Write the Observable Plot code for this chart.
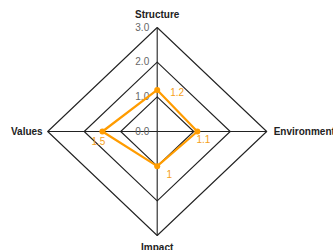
<!DOCTYPE html>
<html>
<head>
<meta charset="utf-8">
<script src="https://cdn.jsdelivr.net/npm/d3@7"></script>
<script src="https://cdn.jsdelivr.net/npm/@observablehq/plot@0.6"></script>
<style>
  html, body { margin: 0; padding: 0; background: #fff; }
</style>
</head>
<body>
<div id="chart"></div>
<script>
const axesNames = ["Structure", "Environment", "Impact", "Values"];
const seriesValues = [1.2, 1.1, 1, 1.5];
const valueLabels = ["1.2", "1.1", "1", "1.5"];
const ringLevels = [1, 2, 3];
const tickValues = [0, 1, 2, 3];
const tickLabels = ["0.0", "1.0", "2.0", "3.0"];
const maxValue = 3;

// direction of each axis (unit vectors)
const dirs = [[0, 1], [1, 0], [0, -1], [-1, 0]];

const ringPts = [];
ringLevels.forEach(k => {
  [0, 1, 2, 3, 0].forEach(i => ringPts.push({ring: k, x: dirs[i][0] * k, y: dirs[i][1] * k}));
});
const spokes = axesNames.map((a, i) => ({x1: 0, y1: 0, x2: dirs[i][0] * maxValue, y2: dirs[i][1] * maxValue}));
const dataPts = seriesValues.map((v, i) => ({name: axesNames[i], label: valueLabels[i], x: dirs[i][0] * v, y: dirs[i][1] * v}));
const poly = [...dataPts, dataPts[0]];
const ticks = tickValues.map((t, i) => ({x: 0, y: t, label: tickLabels[i]}));
const axisLabels = axesNames.map((a, i) => ({name: a, x: dirs[i][0] * maxValue, y: dirs[i][1] * maxValue}));

const cx = 156.7, cy = 131, rx = 109.5, ry = 104;
const orange = "#ff9c00";
const labelOrange = "#f5a020";

const chart = Plot.plot({
  width: 333,
  height: 250,
  margin: 0,
  x: {domain: [-maxValue, maxValue], range: [cx - rx, cx + rx], axis: null},
  y: {domain: [-maxValue, maxValue], range: [cy + ry, cy - ry], axis: null},
  style: {fontFamily: "'Liberation Sans', Arial, sans-serif", background: "#fff", overflow: "hidden"},
  marks: [
    Plot.line(ringPts, {x: "x", y: "y", z: "ring", stroke: "#222", strokeWidth: 1.1}),
    Plot.link(spokes, {x1: "x1", y1: "y1", x2: "x2", y2: "y2", stroke: "#222", strokeWidth: 1.1}),
    Plot.text(ticks, {x: "x", y: "y", text: "label", textAnchor: "end", dx: -8, fill: "#666", fontSize: 10}),
    Plot.line(poly, {x: "x", y: "y", stroke: orange, strokeWidth: 2.2}),
    Plot.dot(dataPts, {x: "x", y: "y", r: 3, fill: orange}),
    Plot.text([dataPts[0]], {x: "x", y: "y", text: "label", dx: 20, dy: 3, fill: labelOrange, fontSize: 10}),
    Plot.text([dataPts[1]], {x: "x", y: "y", text: "label", dx: 6, dy: 8, fill: labelOrange, fontSize: 10}),
    Plot.text([dataPts[2]], {x: "x", y: "y", text: "label", dx: 12, dy: 9, fill: labelOrange, fontSize: 10}),
    Plot.text([dataPts[3]], {x: "x", y: "y", text: "label", dx: -4, dy: 10, fill: labelOrange, fontSize: 10}),
    Plot.text([axisLabels[0]], {x: "x", y: "y", text: "name", dy: -13, fontWeight: "bold", fontSize: 10, fill: "#222"}),
    Plot.text([axisLabels[1]], {x: "x", y: "y", text: "name", dx: 7, textAnchor: "start", fontWeight: "bold", fontSize: 10, fill: "#222"}),
    Plot.text([axisLabels[2]], {x: "x", y: "y", text: "name", dy: 12, fontWeight: "bold", fontSize: 10, fill: "#222"}),
    Plot.text([axisLabels[3]], {x: "x", y: "y", text: "name", dx: -5, textAnchor: "end", fontWeight: "bold", fontSize: 10, fill: "#222"})
  ]
});
document.getElementById("chart").appendChild(chart);
</script>
</body>
</html>
